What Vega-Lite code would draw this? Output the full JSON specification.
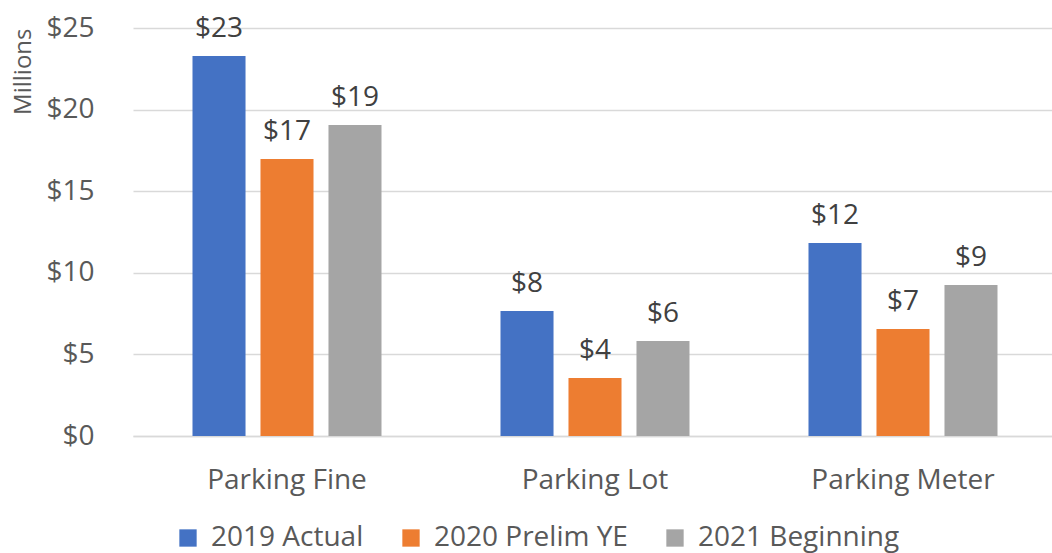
{
  "$schema": "https://vega.github.io/schema/vega-lite/v6.json",
  "width": 924,
  "height": 408,
  "autosize": {"type": "none"},
  "padding": {"left": 133, "top": 28, "right": 0, "bottom": 117},
  "background": "white",
  "config": {
    "view": {"stroke": null},
    "font": "Open Sans",
    "axis": {"labelFont": "Open Sans", "titleFont": "Open Sans", "labelColor": "#595959", "titleColor": "#595959"},
    "legend": {"labelFont": "Open Sans"}
  },
  "data": {
    "values": [
      {"category": "Parking Fine", "series": "2019 Actual", "value": 23.28},
      {"category": "Parking Fine", "series": "2020 Prelim YE", "value": 16.97},
      {"category": "Parking Fine", "series": "2021 Beginning", "value": 19.06},
      {"category": "Parking Lot", "series": "2019 Actual", "value": 7.66},
      {"category": "Parking Lot", "series": "2020 Prelim YE", "value": 3.55},
      {"category": "Parking Lot", "series": "2021 Beginning", "value": 5.82},
      {"category": "Parking Meter", "series": "2019 Actual", "value": 11.83},
      {"category": "Parking Meter", "series": "2020 Prelim YE", "value": 6.56},
      {"category": "Parking Meter", "series": "2021 Beginning", "value": 9.25}
    ]
  },
  "encoding": {
    "x": {
      "field": "category", "type": "nominal",
      "scale": {"paddingInner": 0, "paddingOuter": 0},
      "axis": {"title": null, "labelAngle": 0, "labelFontSize": 28, "labelBaseline": "alphabetic", "labelPadding": 52, "labelLimit": 400, "ticks": false, "domain": true, "domainColor": "#d9d9d9", "domainWidth": 1.5, "grid": false}
    },
    "xOffset": {
      "field": "series", "type": "nominal",
      "scale": {"paddingInner": 0.22, "paddingOuter": 0.875}
    },
    "y": {
      "field": "value", "type": "quantitative",
      "scale": {"domain": [0, 25], "nice": false},
      "axis": {"title": "Millions", "titleFontSize": 24, "titleFontWeight": "normal", "titleAnchor": "end", "titlePadding": 10,
        "values": [0, 5, 10, 15, 20, 25], "labelExpr": "'$' + datum.value", "labelFontSize": 28, "labelPadding": 39,
        "ticks": false, "domain": false, "gridColor": "#d9d9d9", "gridWidth": 1.5}
    }
  },
  "layer": [
    {
      "mark": {"type": "bar"},
      "encoding": {
        "color": {
          "field": "series", "type": "nominal",
          "scale": {"domain": ["2019 Actual", "2020 Prelim YE", "2021 Beginning"], "range": ["#4472C4", "#ED7D31", "#A5A5A5"]},
          "legend": {"title": null, "orient": "none", "direction": "horizontal", "legendX": 41, "legendY": 496,
            "symbolType": "square", "symbolSize": 300, "symbolStrokeWidth": 0, "symbolOpacity": 1,
            "labelFontSize": 28, "labelColor": "#595959", "labelOffset": 9, "columnPadding": 33, "labelLimit": 400}
        }
      }
    },
    {
      "mark": {"type": "text", "baseline": "alphabetic", "dy": -19, "fontSize": 28, "color": "#404040"},
      "encoding": {
        "text": {"field": "value", "type": "quantitative", "format": "$.0f"}
      }
    }
  ]
}
